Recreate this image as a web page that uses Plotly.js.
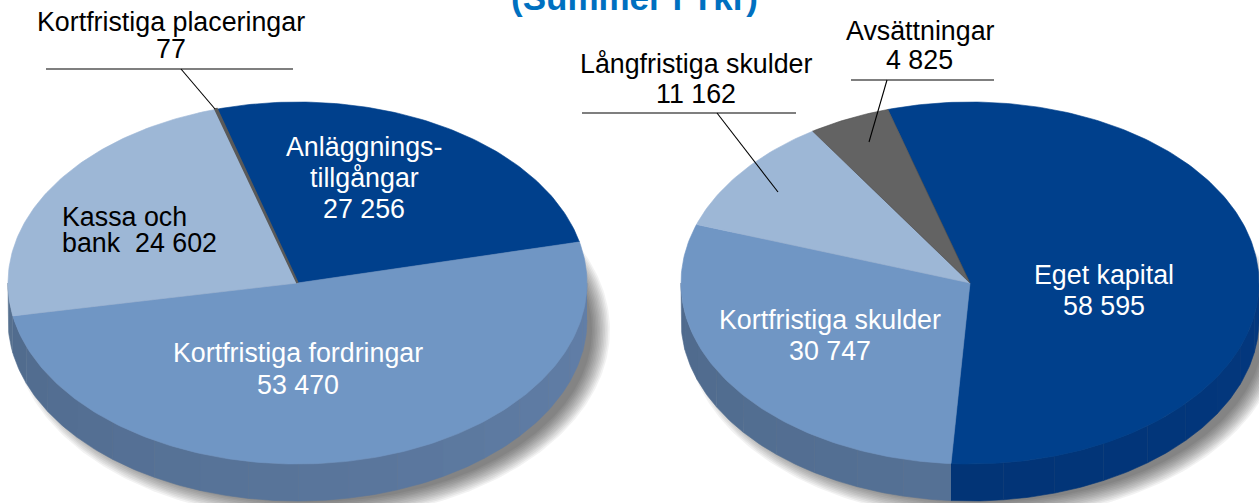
<!DOCTYPE html>
<html><head><meta charset="utf-8">
<script src="https://cdn.plot.ly/plotly-3.0.1.min.js"></script>
<style>html,body{margin:0;padding:0;background:#fff;overflow:hidden}#c{width:1259px;height:503px}</style>
</head><body><div id="c"></div>
<script>
// Data
const assetCategories = ["Anläggningstillgångar","Kortfristiga fordringar","Kassa och bank","Kortfristiga placeringar"];
const assetValues = [27256, 53470, 24602, 77];
const liabilityCategories = ["Eget kapital","Kortfristiga skulder","Långfristiga skulder","Avsättningar"];
const liabilityValues = [58595, 30747, 11162, 4825];
const titleText = "(Summer i Tkr)";

// Styles
const assetColors = ["#00408c","#7096c4","#9db7d6","#636363"];
const liabilityColors = ["#00408c","#7096c4","#9db7d6","#636363"];
const assetSide = [["#03397f","#00306f"],["#627fa8","#4f6a8c"],["#5f7a9c","#56708f"],["#444444","#444444"]];
const liabilitySide = [["#03387e","#002f6e"],["#5c799f","#4f6a8c"],["#6d87a8","#6d87a8"],["#444444","#444444"]];

const FONT = "Liberation Sans, Arial, sans-serif";
const pies = [
  {cx:297.5, cy:283, rx:289.5, ry:181, start:-16.2, values:assetValues, names:assetCategories, colors:assetColors, side:assetSide},
  {cx:970,   cy:283, rx:289,   ry:181, start:-16.5, values:liabilityValues, names:liabilityCategories, colors:liabilityColors, side:liabilitySide}
];
const DEPTH = 37;
const rad = d => d*Math.PI/180;
const lerp = (a,b,t)=>Math.round(a+(b-a)*t);
function mix(c1,c2,t){
  const p=c=>[1,3,5].map(i=>parseInt(c.substr(i,2),16));
  const a=p(c1),b=p(c2);
  return `rgb(${lerp(a[0],b[0],t)},${lerp(a[1],b[1],t)},${lerp(a[2],b[2],t)})`;
}
function pt(p,a,dy){ return [p.cx+p.rx*Math.sin(rad(a)), p.cy-p.ry*Math.cos(rad(a))+(dy||0)]; }
function arc(p,a0,a1,dy){
  const out=[], n=Math.max(2,Math.ceil(Math.abs(a1-a0)/1));
  for(let i=0;i<=n;i++) out.push(pt(p,a0+(a1-a0)*i/n,dy));
  return out;
}
function poly(points,fill,lineColor,lineWidth,name){
  return {type:"scatter",mode:"lines",x:points.map(q=>q[0]),y:points.map(q=>q[1]),fill:"toself",fillcolor:fill,
    line:{color:lineColor||fill,width:lineWidth===undefined?0.6:lineWidth},hoverinfo:name?"text":"skip",text:name||undefined,showlegend:false,name:name||""};
}

const traces=[];
// blurred drop shadow
pies.forEach(p=>{
  const N=12, blur=9, sx=p.cx+14, sy=p.cy+DEPTH+10;
  for(let i=0;i<N;i++){
    const g=blur-(2*blur)*i/(N-1);
    const s={cx:sx,cy:sy,rx:p.rx+g,ry:p.ry+g};
    const pts=arc(s,0,360);
    traces.push({type:"scatter",mode:"lines",x:pts.map(q=>q[0]),y:pts.map(q=>q[1]),fill:"toself",
      fillcolor:"rgba(0,0,0,0.052)",line:{width:0},hoverinfo:"skip",showlegend:false});
  }
});
// side wall and top of each slice, sized from its value
pies.forEach(p=>{
  const total=p.values.reduce((a,b)=>a+b,0);
  let a=p.start;
  const spans=p.values.map(v=>{const s=[a,a+v/total*360];a=s[1];return s;});
  spans.forEach((s,i)=>{
    const a0=Math.max(s[0],90), a1=Math.min(s[1],270);
    if(a1>a0){
      const step=10, n=Math.max(1,Math.round((a1-a0)/step));
      for(let k=0;k<n;k++){
        const b0=a0+(a1-a0)*k/n, b1=a0+(a1-a0)*(k+1)/n;
        const t=((b0+b1)/2-90)/180;
        const col=mix(p.side[i][0],p.side[i][1],t);
        traces.push(poly(arc(p,b0,b1,0).concat(arc(p,b1,b0,DEPTH)),col));
      }
    }
  });
  spans.forEach((s,i)=>{
    const small=p.values[i]/total<0.002;
    const pts=[[p.cx,p.cy]].concat(arc(p,s[0],s[1])).concat([[p.cx,p.cy]]);
    traces.push(poly(pts,p.colors[i],small?"#595959":(p.colors[i]==="#636363"?"#4a4a4a":p.colors[i]),small?2.4:0.6,p.names[i]+": "+p.values[i]));
  });
});

// text lines: [text, x, y, colour, anchor]
const labelLines = [
  ["Kortfristiga placeringar",171,22,"#000","center"],["77",171,49,"#000","center"],
  ["Anläggnings-",364,147,"#fff","center"],["tillgångar",364,178,"#fff","center"],["27 256",364,209,"#fff","center"],
  ["Kassa och",60,217,"#000","left"],["bank  24 602",60,243,"#000","left"],
  ["Kortfristiga fordringar",298,353,"#fff","center"],["53 470",298,385,"#fff","center"],
  ["Avsättningar",920,31,"#000","center"],["4 825",919,60,"#000","center"],
  ["Långfristiga skulder",696,64,"#000","center"],["11 162",696,94,"#000","center"],
  ["Eget kapital",1104,275,"#fff","center"],["58 595",1104,306,"#fff","center"],
  ["Kortfristiga skulder",830,320,"#fff","center"],["30 747",830,351,"#fff","center"]
];
const annotations = labelLines.map(l=>({xref:"x",yref:"y",x:l[1],y:l[2],text:l[0].replace(/  /g,"&nbsp;&nbsp;"),showarrow:false,
  xanchor:l[4],yanchor:"middle",font:{family:FONT,size:26.8,color:l[3]}}));
annotations.push({xref:"x",yref:"y",x:634,y:19.5,text:"<b>"+titleText+"</b>",showarrow:false,xanchor:"center",yanchor:"bottom",
  font:{family:FONT,size:35,color:"#0070c0"}});

const seg=(x0,y0,x1,y1)=>({type:"line",xref:"x",yref:"y",x0,y0,x1,y1,line:{color:"#000",width:1.1},layer:"above"});
const shapes=[seg(46,69,293,69),seg(181,69,215,109),seg(851,80,994,80),seg(887,80,869,142),seg(582,113,796,113),seg(717,113,778,192)];

const layout={width:1259,height:503,margin:{l:0,r:0,t:0,b:0},paper_bgcolor:"#fff",plot_bgcolor:"#fff",showlegend:false,
  xaxis:{range:[0,1259],visible:false,fixedrange:true},
  yaxis:{range:[503,0],visible:false,fixedrange:true},
  annotations,shapes};
Plotly.newPlot("c",traces,layout,{displayModeBar:false,staticPlot:false});
</script></body></html>
